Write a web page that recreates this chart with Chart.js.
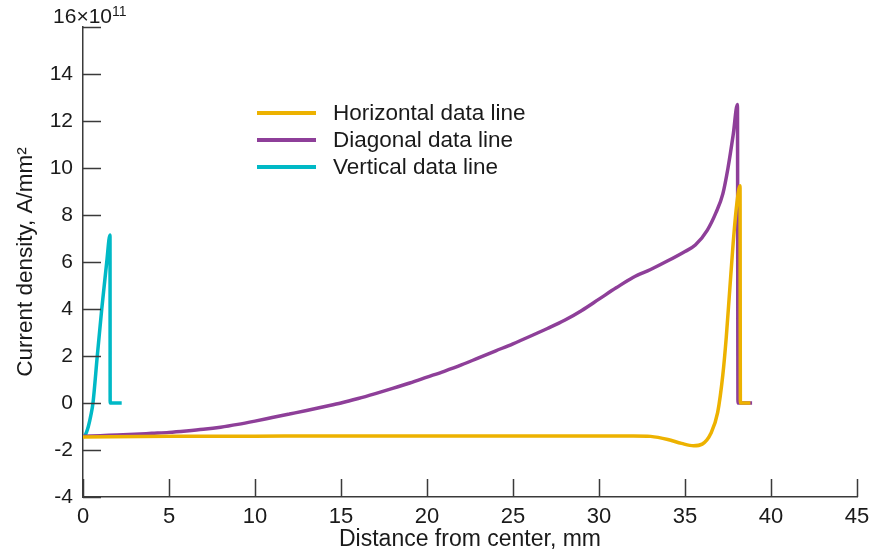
<!DOCTYPE html>
<html>
<head>
<meta charset="utf-8">
<script src="https://cdn.jsdelivr.net/npm/chart.js@4.4.1/dist/chart.umd.min.js"></script>
<style>
html,body{margin:0;padding:0;background:#fff;}
#wrap{width:870px;height:556px;position:relative;}
</style>
</head>
<body>
<div id="wrap"><canvas id="c" width="870" height="556"></canvas></div>
<script>
// ---- data (current density ×10^11 A/mm² vs distance from center, mm)
const horizontalX = [0, 5, 10, 15, 20, 25, 30, 32, 33, 34, 34.8, 35.5, 36, 36.5, 36.9, 37.2, 37.4, 37.6, 37.8, 38.0, 38.2, 38.22, 38.8];
const horizontalY = [-1.45, -1.42, -1.41, -1.4, -1.4, -1.4, -1.4, -1.4, -1.42, -1.55, -1.72, -1.82, -1.75, -1.3, -0.4, 1.2, 2.8, 4.8, 6.8, 8.4, 9.25, 0, 0];

const diagonalX = [0, 1, 2, 3, 4, 5, 6, 7, 8, 9, 10, 11, 12, 13, 14, 15, 16, 17, 18, 19, 20, 21, 22, 23, 24, 25, 26, 27, 28, 29, 30, 31, 32, 33, 34, 35, 35.6, 36.3, 36.8, 37.2, 37.5, 37.8, 38.05, 38.08, 38.9];
const diagonalY = [-1.42, -1.39, -1.36, -1.33, -1.29, -1.25, -1.19, -1.12, -1.03, -0.91, -0.77, -0.62, -0.47, -0.32, -0.16, 0, 0.19, 0.4, 0.62, 0.85, 1.1, 1.35, 1.62, 1.92, 2.22, 2.52, 2.84, 3.17, 3.52, 3.94, 4.42, 4.9, 5.35, 5.68, 6.05, 6.45, 6.72, 7.36, 8.1, 8.9, 10.0, 11.4, 12.7, 0, 0];

const verticalX = [0, 0.1, 0.2, 0.31, 0.45, 0.58, 0.83, 1.09, 1.38, 1.57, 1.58, 2.25];
const verticalY = [-1.45, -1.4, -1.25, -1.0, -0.55, 0, 2, 4, 6, 7.15, 0, 0];

const seriesLabels = ['Horizontal data line', 'Diagonal data line', 'Vertical data line'];
const seriesColors = ['#EDB200', '#8E3F99', '#00B9C6'];

const xTicks = [0, 5, 10, 15, 20, 25, 30, 35, 40, 45];
const yTicks = [-4, -2, 0, 2, 4, 6, 8, 10, 12, 14, 16];
const yTopLabel = '16×10';
const yTopExponent = '11';
const xTitle = 'Distance from center, mm';
const yTitle = 'Current density, A/mm²';

function pts(xs, ys){ return xs.map((x,i)=>({x:x, y:ys[i]})); }

const AXIS_COLOR = '#3a3a3a';
const TEXT_COLOR = '#1a1a1a';
const FONT = '"Liberation Sans", Arial, sans-serif';

const inwardTicks = {
  id: 'inwardTicks',
  afterDraw(chart){
    const ctx = chart.ctx;
    const xs = chart.scales.x, ys = chart.scales.y;
    const area = chart.chartArea;
    ctx.save();
    ctx.strokeStyle = AXIS_COLOR;
    ctx.lineWidth = 1.5;
    ctx.beginPath();
    xTicks.forEach(v=>{
      const px = Math.round(xs.getPixelForValue(v)) + 0.5;
      ctx.moveTo(px, area.bottom);
      ctx.lineTo(px, area.bottom - 18);
    });
    yTicks.forEach(v=>{
      const py = Math.round(ys.getPixelForValue(v)) + 0.5;
      ctx.moveTo(area.left, py);
      ctx.lineTo(area.left + 18, py);
    });
    ctx.stroke();
    // top label with exponent
    const topY = ys.getPixelForValue(16);
    ctx.fillStyle = TEXT_COLOR;
    ctx.font = '21px ' + FONT;
    ctx.textBaseline = 'middle';
    ctx.textAlign = 'right';
    ctx.fillText(yTopLabel, 112, topY - 10);
    ctx.textAlign = 'left';
    ctx.font = '14px ' + FONT;
    ctx.fillText(yTopExponent, 112, topY - 15);
    // legend
    ctx.font = '22.5px ' + FONT;
    ctx.textBaseline = 'middle';
    const legY = [113, 140, 167];
    chart.data.datasets.forEach((ds, i)=>{
      ctx.strokeStyle = ds.borderColor;
      ctx.lineWidth = 4;
      ctx.beginPath();
      ctx.moveTo(257, legY[i]);
      ctx.lineTo(316, legY[i]);
      ctx.stroke();
      ctx.fillStyle = TEXT_COLOR;
      ctx.fillText(ds.label, 333, legY[i] + 1);
    });
    ctx.restore();
  }
};

new Chart(document.getElementById('c'), {
  type: 'line',
  data: {
    datasets: [
      {label: seriesLabels[0], data: pts(horizontalX, horizontalY), borderColor: seriesColors[0]},
      {label: seriesLabels[1], data: pts(diagonalX, diagonalY), borderColor: seriesColors[1]},
      {label: seriesLabels[2], data: pts(verticalX, verticalY), borderColor: seriesColors[2]}
    ].map(d=>Object.assign(d, {borderWidth: 3.5, pointRadius: 0, fill: false, cubicInterpolationMode: 'monotone', borderJoinStyle: 'round', borderCapStyle: 'butt'}))
  },
  options: {
    responsive: false,
    animation: false,
    layout: {padding: {top: 27, right: 13, left: 0, bottom: 0}},
    plugins: {legend: {display: false}, tooltip: {enabled: false}},
    scales: {
      x: {
        type: 'linear', min: 0, max: 45,
        afterFit: s => { s.height = 59; s.paddingLeft = 0; s.paddingRight = 0; },
        afterBuildTicks: s => { s.ticks = xTicks.map(v=>({value: v})); },
        grid: {display: true, drawOnChartArea: false, drawTicks: false},
        border: {display: true, color: AXIS_COLOR, width: 1.5},
        ticks: {padding: 7, color: TEXT_COLOR, maxRotation: 0, autoSkip: false,
          font: {family: FONT, size: 22}},
        title: {display: true, text: xTitle, color: TEXT_COLOR, padding: {top: 3, bottom: 3},
          font: {family: FONT, size: 23}}
      },
      y: {
        type: 'linear', min: -4, max: 16,
        afterFit: s => { s.width = 83; s.paddingTop = 0; s.paddingBottom = 0; },
        afterBuildTicks: s => { s.ticks = yTicks.map(v=>({value: v})); },
        grid: {display: true, drawOnChartArea: false, drawTicks: false},
        border: {display: true, color: AXIS_COLOR, width: 1.5},
        ticks: {padding: 10, color: TEXT_COLOR, autoSkip: false,
          callback: v => v === 16 ? '' : String(v),
          font: {family: FONT, size: 21}},
        title: {display: true, text: yTitle, color: TEXT_COLOR, padding: {top: 12, bottom: 12},
          font: {family: FONT, size: 22.5}}
      }
    }
  },
  plugins: [inwardTicks]
});
</script>
</body>
</html>
